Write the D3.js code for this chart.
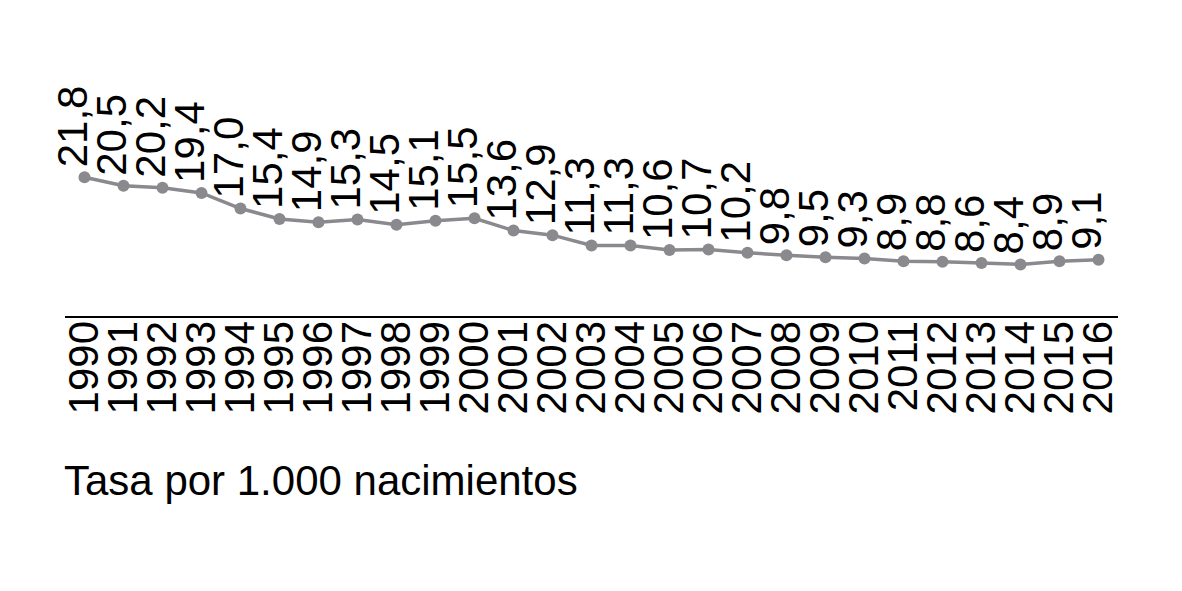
<!DOCTYPE html>
<html><head><meta charset="utf-8">
<script src="https://cdn.jsdelivr.net/npm/d3@7"></script>
<style>
html,body{margin:0;padding:0;background:#fff;}
text{font-family:"Liberation Sans",Arial,sans-serif;}
</style></head>
<body>
<svg id="c" width="1182" height="591"></svg>
<script>
const years = ["1990","1991","1992","1993","1994","1995","1996","1997","1998","1999","2000","2001","2002","2003","2004","2005","2006","2007","2008","2009","2010","2011","2012","2013","2014","2015","2016"];
const rates = [21.8,20.5,20.2,19.4,17.0,15.4,14.9,15.3,14.5,15.1,15.5,13.6,12.9,11.3,11.3,10.6,10.7,10.2,9.8,9.5,9.3,8.9,8.8,8.6,8.4,8.9,9.1];
const unitLabel = "Tasa por 1.000 nacimientos";

const svg = d3.select("#c");
const fs = 42;
const x = d3.scalePoint().domain(years).range([65, 1118]).padding(0.5);
const y = d3.scaleLinear().domain([0, 40]).range([319, 59]);
const fmt = v => d3.format(".1f")(v).replace(".", ",");

// axis
const axis = d3.axisBottom(x).tickSize(0).tickPadding(0);
const gx = svg.append("g").attr("transform", "translate(0,317)").call(axis);
gx.select(".domain").attr("stroke", "#000").attr("stroke-width", 2).attr("d", "M65,0H1118");
gx.selectAll(".tick text")
  .attr("font-size", fs)
  .attr("fill", "#000")
  .attr("font-family", "Liberation Sans, Arial, sans-serif")
  .attr("text-anchor", "end")
  .attr("transform", "translate(13,4) rotate(-90)")
  .attr("x", 0).attr("y", 0).attr("dy", 0);

// line
const data = years.map((yr, i) => ({yr, v: rates[i]}));
svg.append("path").datum(data)
  .attr("fill", "none").attr("stroke", "#8a8a8e").attr("stroke-width", 3.5)
  .attr("d", d3.line().x(d => x(d.yr)).y(d => y(d.v)));
svg.selectAll("circle.pt").data(data).join("circle")
  .attr("class", "pt")
  .attr("cx", d => x(d.yr)).attr("cy", d => y(d.v)).attr("r", 6)
  .attr("fill", "#8a8a8e");

// value labels
svg.selectAll("text.val").data(data).join("text")
  .attr("class", "val")
  .attr("font-size", fs)
  .attr("fill", "#000")
  .attr("text-anchor", "start")
  .attr("transform", d => `translate(${x(d.yr)+2},${y(d.v) - 10}) rotate(-90)`)
  .text(d => fmt(d.v));

// unit label
svg.append("text").attr("x", 64).attr("y", 495)
  .attr("font-size", fs).attr("fill", "#000").text(unitLabel);
</script>
</body></html>
